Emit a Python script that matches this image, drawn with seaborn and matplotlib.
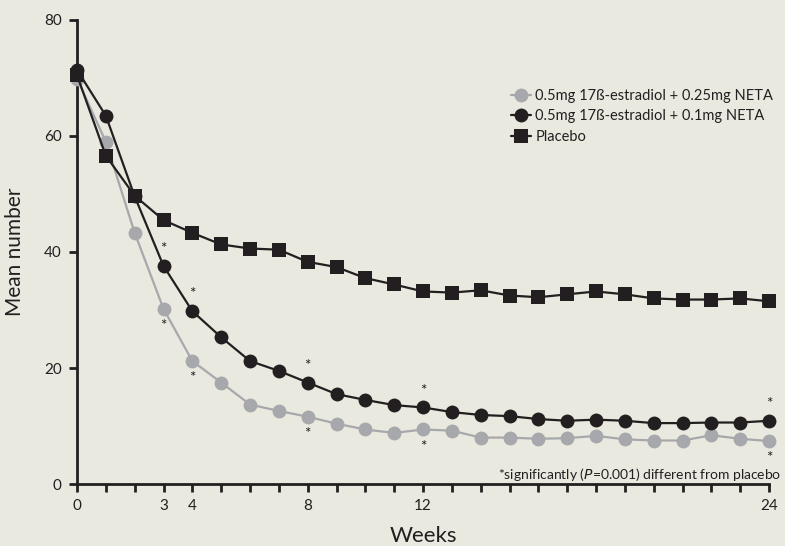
import numpy as np
import matplotlib
matplotlib.use("Agg")
import matplotlib.pyplot as plt
import seaborn as sns
import pandas as pd

sns.set_style("ticks")
plt.rcParams['font.family'] = ['Lato', 'DejaVu Sans']

weeks = list(range(0, 25))
neta_025 = [69.9, 59.0, 43.3, 30.2, 21.2, 17.5, 13.7, 12.6, 11.6, 10.4, 9.4, 8.8,
            9.4, 9.2, 8.0, 8.0, 7.8, 7.9, 8.3, 7.7, 7.5, 7.5, 8.4, 7.8, 7.4]
neta_01 = [71.4, 63.5, 49.6, 37.6, 29.8, 25.3, 21.2, 19.5, 17.5, 15.5, 14.5, 13.6,
           13.2, 12.4, 11.9, 11.7, 11.2, 10.9, 11.1, 10.9, 10.5, 10.5, 10.6, 10.6, 10.9]
placebo = [70.5, 56.6, 49.7, 45.5, 43.3, 41.3, 40.6, 40.4, 38.3, 37.4, 35.5, 34.4,
           33.2, 33.0, 33.4, 32.5, 32.2, 32.7, 33.2, 32.7, 32.0, 31.8, 31.8, 32.0, 31.5]
signif_weeks = [3, 4, 8, 12, 24]
labelled_weeks = [0, 3, 4, 8, 12, 24]

labels = ["0.5mg 17\u00df-estradiol + 0.25mg NETA",
          "0.5mg 17\u00df-estradiol + 0.1mg NETA",
          "Placebo"]

df = pd.DataFrame({"Weeks": weeks, labels[0]: neta_025,
                   labels[1]: neta_01, labels[2]: placebo})

bg = "#eae9df"
dark = "#231f20"
grey = "#a7a8ac"

fig = plt.figure(figsize=(7.85, 5.46), dpi=100, facecolor=bg)
ax = fig.add_axes([77/785, 1 - 484/546, (769-77)/785, (484-20)/546])
ax.set_facecolor(bg)

sns.lineplot(data=df, x="Weeks", y=labels[0], ax=ax, color=grey, marker="o",
             markersize=10, markeredgewidth=0, linewidth=1.6, label=labels[0],
             clip_on=False, zorder=3)
sns.lineplot(data=df, x="Weeks", y=labels[1], ax=ax, color=dark, marker="o",
             markersize=10, markeredgewidth=0, linewidth=1.6, label=labels[1],
             clip_on=False, zorder=4)
sns.lineplot(data=df, x="Weeks", y=labels[2], ax=ax, color=dark, marker="s",
             markersize=9.5, markeredgewidth=0, linewidth=1.6, label=labels[2],
             clip_on=False, zorder=5)

for w in signif_weeks:
    ax.annotate("*", (w, neta_01[w]), xytext=(0, 7), textcoords="offset points",
                ha="center", va="bottom", fontsize=11, color=dark)
    ax.annotate("*", (w, neta_025[w]), xytext=(0, -12.5), textcoords="offset points",
                ha="center", va="center", fontsize=11, color=dark)

ax.set_xlim(0, 24)
ax.set_ylim(0, 80)
ax.set_xticks(weeks)
ax.set_xticklabels([str(w) if w in labelled_weeks else "" for w in weeks])
ax.set_yticks([0, 20, 40, 60, 80])
ax.tick_params(axis="both", length=6, width=2, color=dark, labelsize=11,
               labelcolor=dark, direction="out", pad=5)
for s in ["top", "right"]:
    ax.spines[s].set_visible(False)
for s in ["left", "bottom"]:
    ax.spines[s].set_linewidth(2)
    ax.spines[s].set_color(dark)

ax.set_xlabel("Weeks", fontsize=16, color=dark, labelpad=9)
ax.set_ylabel("Mean number", fontsize=15, color=dark, labelpad=14)

ax.text(1.018, 0.011, r"*significantly ($\it{P}$=0.001) different from placebo",
        transform=ax.transAxes, ha="right", va="baseline", fontsize=10, color=dark)

leg = ax.legend(loc="upper right", bbox_to_anchor=(1.025, 0.88), frameon=False,
                fontsize=10.5, handlelength=1.4, handletextpad=0.3, labelspacing=0.45,
                labelcolor=dark)

fig.savefig("out.png", dpi=100, facecolor=bg)
